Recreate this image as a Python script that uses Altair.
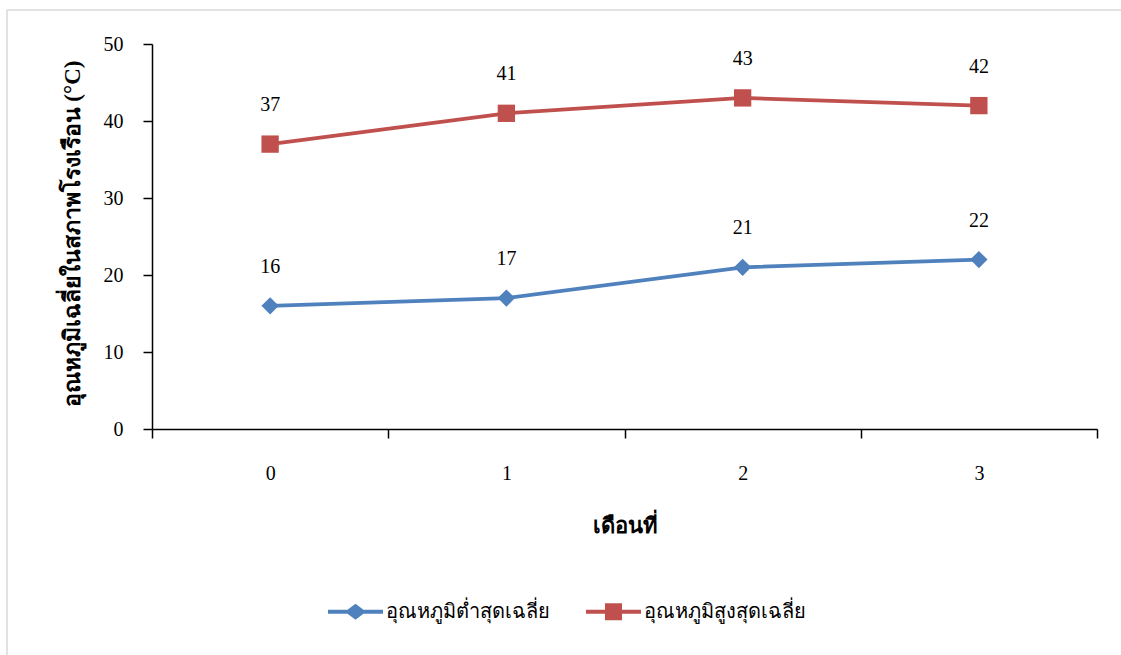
import altair as alt
import pandas as pd

months = ["0", "1", "2", "3"]
min_label = "อุณหภูมิต่ำสุดเฉลี่ย"
max_label = "อุณหภูมิสูงสุดเฉลี่ย"
min_temp = [16, 17, 21, 22]
max_temp = [37, 41, 43, 42]
series_names = [min_label, max_label]
series_colors = ["#4F81BD", "#C0504D"]
y_ticks = [0, 10, 20, 30, 40, 50]
x_title = "เดือนที่"
y_title = "อุณหภูมิเฉลี่ยในสภาพโรงเรือน (°C)"

df = pd.DataFrame({
    "month": months * 2,
    "temp": min_temp + max_temp,
    "series": [min_label] * len(months) + [max_label] * len(months),
})

FONT = "Liberation Serif"
W, H = 945, 385
PL, PT = 152, 44

legend_paths = [
    "M-1,-0.075L-0.29,-0.075L0,-0.29L0.29,-0.075L1,-0.075L1,0.075L0.29,0.075L0,0.29L-0.29,0.075L-1,0.075Z",
    "M-1,-0.075L-0.31,-0.075L-0.31,-0.31L0.31,-0.31L0.31,-0.075L1,-0.075L1,0.075L0.31,0.075L0.31,0.31L-0.31,0.31L-0.31,0.075L-1,0.075Z",
]

xenc = alt.X(
    "month:O",
    sort=months,
    scale=alt.Scale(type="band", paddingInner=0, paddingOuter=0),
    bandPosition=0.5,
    axis=alt.Axis(
        title=x_title, tickBand="extent", labelAngle=0, tickSize=9,
        labelPadding=25, titleFontSize=22, titleFontWeight="bold",
        titleY=96, titleBaseline="middle",
    ),
)
yenc = alt.Y(
    "temp:Q",
    scale=alt.Scale(domain=[0, 50], nice=False),
    axis=alt.Axis(
        values=y_ticks, grid=False, title=y_title, tickSize=9, labelPadding=20,
        titleFontSize=23, titleFontWeight="bold", titleAngle=-90,
        titleX=-80, titleY=H / 2 - 3, titleAlign="center", titleBaseline="middle",
    ),
)
legend_def = alt.Legend(
    title=None, orient="none", legendX=176, legendY=540, direction="horizontal",
    symbolSize=3025, symbolOpacity=1, symbolStrokeWidth=0, labelFont=FONT,
    labelFontSize=20, labelColor="black", labelOffset=3, columnPadding=36,
    padding=0, labelLimit=0,
)
color = alt.Color("series:N", scale=alt.Scale(domain=series_names, range=series_colors), legend=legend_def)

base = alt.Chart(df)

lines = base.mark_line(strokeWidth=3.8).encode(x=xenc, y=yenc, color=color)

pts_min = base.transform_filter(alt.datum.series == min_label).mark_point(
    filled=True, opacity=1, shape="diamond", size=300
).encode(x=xenc, y=yenc, color=color)
pts_max = base.transform_filter(alt.datum.series == max_label).mark_point(
    filled=True, opacity=1, shape="square", size=300
).encode(x=xenc, y=yenc, color=color)

labels = base.mark_text(dy=-39, fontSize=20, font=FONT, color="black").encode(
    x=xenc, y=yenc, text="temp:Q"
)

legend_layer = base.mark_point(filled=True, opacity=0).encode(
    x=xenc, y=yenc,
    color=color,
    shape=alt.Shape("series:N", scale=alt.Scale(domain=series_names, range=legend_paths), legend=legend_def),
)

frame_df = pd.DataFrame({"a": [0]})
frame_top = alt.Chart(frame_df).mark_rule(color="#d9d9d9", strokeWidth=1.5).encode(
    x=alt.value(7 - PL), x2=alt.value(1121 - PL), y=alt.value(10 - PT)
)
frame_left = alt.Chart(frame_df).mark_rule(color="#d9d9d9", strokeWidth=1.5).encode(
    x=alt.value(7 - PL), y=alt.value(10 - PT), y2=alt.value(655 - PT)
)

chart = alt.layer(frame_top, frame_left, lines, pts_min, pts_max, labels, legend_layer).properties(
    width=W, height=H,
    autosize=alt.AutoSizeParams(type="none"),
    padding={"left": PL, "top": PT, "right": 1121 - PL - W, "bottom": 655 - PT - H},
).configure_view(stroke=None).configure_axis(
    domainColor="black", tickColor="black", labelColor="black", titleColor="black",
    labelFont=FONT, titleFont=FONT, labelFontSize=20, domainWidth=1.5, tickWidth=1.5,
)

chart.save("out.html", embed_options={"renderer": "svg", "actions": False})
